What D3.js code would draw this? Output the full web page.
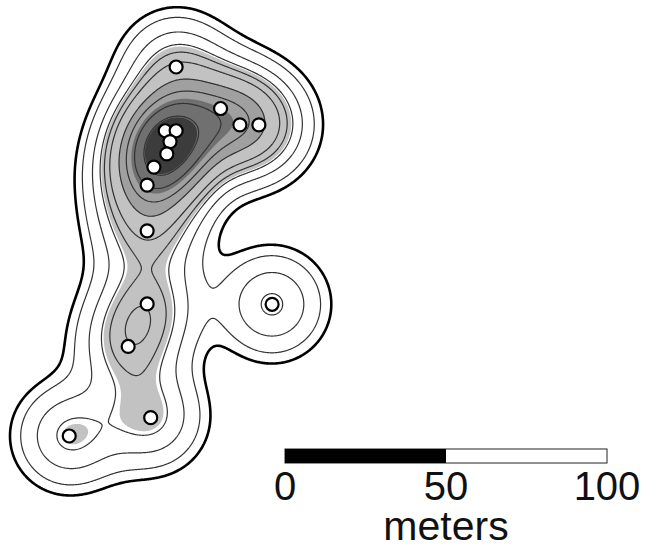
<!DOCTYPE html>
<html>
<head>
<meta charset="utf-8">
<script src="https://cdn.jsdelivr.net/npm/d3@7"></script>
<style>
  html, body { margin: 0; padding: 0; background: #fff; }
  text { font-family: "Liberation Sans", Arial, sans-serif; fill: #111; }
</style>
</head>
<body>
<script>
// locations, in meters from the top left corner
var pointX = [54.7, 68.5, 74.5, 80.4, 51.3, 54.7, 52.8, 51.8, 47.8, 45.7, 45.7, 45.7, 39.8, 46.8, 21.5, 84.5];
var pointY = [20.8, 33.7, 38.8, 38.8, 40.6, 40.6, 44.0, 47.8, 51.9, 57.5, 71.7, 94.4, 107.6, 129.7, 135.4, 94.5];

var bandwidth = 10.25;                 // gaussian sigma, meters
var lineLevels = [0.2, 0.34, 0.63, 0.95, 1.175, 1.5, 2.17, 2.77, 3.48, 4.23];
var fillLevels = [1.01, 2.15, 3.2, 4.3];
var fillColors = ['#c2c2c2', '#a0a0a0', '#707070', '#3c3c3c'];

var barTicks = [0, 50, 100];

var width = 646, height = 549;

var x = d3.scaleLinear().domain([0, 200]).range([0, 644]);
var y = d3.scaleLinear().domain([0, 170]).range([0, 547.4]);
var bar = d3.scaleLinear().domain([0, 100]).range([285, 607]);

var svg = d3.select('body').append('svg')
	.attr('width', width)
	.attr('height', height)
	.style('display', 'block');

// gaussian kernel density on a pixel grid
var gw = width, gh = height;
var grid = new Float64Array(gw * gh);
pointX.forEach(function(px, k) {
	var py = pointY[k];
	for (var j = 0; j < gh; j++) {
		var my = y.invert(j + .5);
		for (var i = 0; i < gw; i++) {
			var mx = x.invert(i + .5);
			var d2 = ((mx - px) * (mx - px) + (my - py) * (my - py)) / (bandwidth * bandwidth);
			grid[j * gw + i] += Math.exp(-d2 / 2);
		}
	}
});

var path = d3.geoPath();
var contours = d3.contours().size([gw, gh]);

svg.append('g').selectAll('path')
	.data(contours.thresholds(fillLevels)(grid))
	.enter().append('path')
	.attr('d', path)
	.attr('fill', function(d, i) { return fillColors[i]; });

svg.append('g').selectAll('path')
	.data(contours.thresholds(lineLevels)(grid))
	.enter().append('path')
	.attr('d', path)
	.attr('fill', 'none')
	.attr('stroke', function(d, i) { return i === 0 ? '#000' : '#333'; })
	.attr('stroke-width', function(d, i) { return i === 0 ? 2.6 : 1.2; });

svg.append('g').selectAll('circle')
	.data(pointX)
	.enter().append('circle')
	.attr('cx', function(d) { return x(d); })
	.attr('cy', function(d, i) { return y(pointY[i]); })
	.attr('r', 6.5)
	.attr('fill', '#fff')
	.attr('stroke', '#000')
	.attr('stroke-width', 2.2);

// scale bar
var scaleBar = svg.append('g');
scaleBar.append('rect')
	.attr('x', bar(0)).attr('y', 449)
	.attr('width', bar(100) - bar(0)).attr('height', 14)
	.attr('fill', '#fff').attr('stroke', '#222').attr('stroke-width', 1);
scaleBar.append('rect')
	.attr('x', bar(0)).attr('y', 449)
	.attr('width', bar(50) - bar(0)).attr('height', 14)
	.attr('fill', '#000');
scaleBar.selectAll('text.tick')
	.data(barTicks)
	.enter().append('text')
	.attr('class', 'tick')
	.attr('x', function(d) { return bar(d); })
	.attr('y', 500)
	.attr('text-anchor', 'middle')
	.attr('font-size', 40)
	.text(function(d) { return d; });
scaleBar.append('text')
	.attr('x', 446).attr('y', 540)
	.attr('text-anchor', 'middle')
	.attr('font-size', 41)
	.text('meters');
</script>
</body>
</html>
